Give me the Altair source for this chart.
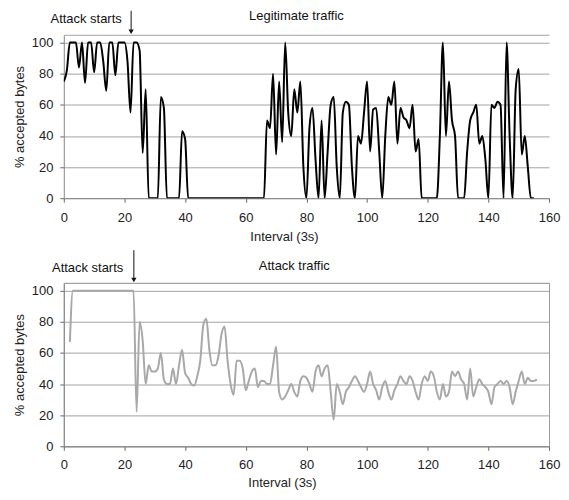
import altair as alt
import pandas as pd

# ---------------- data ----------------
legit_x = list(range(0, 156))
legit_y = [
    75, 82, 100, 100, 100, 84, 100, 74, 100, 100,
    81, 100, 100, 88, 69, 100, 100, 79, 100, 100,
    100, 88, 55, 100, 100, 95, 29, 70, 0, 0,
    0, 0, 65, 58, 0, 0, 0, 0, 0, 43,
    38, 0, 0, 0, 0, 0, 0, 0, 0, 0,
    0, 0, 0, 0, 0, 0, 0, 0, 0, 0,
    0, 0, 0, 0, 0, 0, 0, 50, 45, 80,
    28, 75, 36, 100, 55, 40, 70, 55, 75, 20,
    0, 45, 58, 25, 0, 50, 0, 30, 60, 65,
    20, 0, 55, 62, 60, 20, 0, 40, 35, 55,
    75, 30, 57, 58, 30, 0, 40, 65, 60, 75,
    35, 58, 52, 50, 45, 60, 30, 38, 0, 0,
    0, 0, 0, 0, 40, 100, 40, 75, 50, 40,
    0, 0, 0, 30, 50, 55, 60, 35, 40, 25,
    0, 60, 58, 62, 60, 0, 100, 40, 0, 70,
    83, 28, 40, 20, 0, 0,
]

attack_x = list(range(2, 157))
attack_y = [
    67, 100, 100, 100, 100, 100, 100, 100, 100, 100,
    100, 100, 100, 100, 100, 100, 100, 100, 100, 100,
    100, 100, 22, 80, 68, 40, 52, 48, 48, 50,
    60, 43, 40, 40, 50, 40, 52, 62, 47, 44,
    40, 39, 45, 55, 78, 82, 62, 52, 52, 58,
    72, 77, 55, 40, 33, 55, 55, 50, 36, 42,
    48, 50, 38, 42, 42, 40, 40, 52, 64, 35,
    30, 32, 36, 40, 35, 32, 42, 45, 44, 40,
    35, 48, 52, 45, 50, 52, 35, 17, 40, 35,
    27, 35, 38, 42, 45, 42, 38, 35, 40, 48,
    40, 36, 30, 38, 42, 35, 30, 36, 40, 45,
    42, 40, 45, 42, 35, 30, 40, 45, 42, 48,
    45, 35, 30, 40, 32, 35, 48, 45, 48, 43,
    40, 30, 50, 32, 38, 43, 40, 38, 35, 27,
    38, 40, 42, 40, 42, 38, 27, 35, 42, 48,
    40, 44, 42, 42, 43,
]

x_ticks = [0, 20, 40, 60, 80, 100, 120, 140, 160]
y_ticks = [0, 20, 40, 60, 80, 100]
titles = ["Legitimate traffic", "Attack traffic"]
attack_label = "Attack starts"

FONT = "Liberation Sans"
GRID = "#a3a3a3"
W, H = 487, 164
YMAX = 105


def panel(xv, yv, color, title_text, arrow_x, arrow_top, label_x, label_y,
          title_x, title_y, border, lab_pad, ttl_pad, ttl_x):
    df = pd.DataFrame({"interval": xv, "pct": yv})
    x_scale = alt.Scale(domain=[0, 160], nice=False, zero=False)
    y_scale = alt.Scale(domain=[0, YMAX], nice=False)
    x_axis = alt.Axis(
        values=x_ticks, grid=False, title="Interval (3s)",
        domainColor="#888888", tickColor="#666666", tickSize=4,
        labelFont=FONT, labelFontSize=13, labelColor="#222222", labelPadding=lab_pad,
        labelFlush=False, labelOverlap=False,
        titleFont=FONT, titleFontSize=13, titleFontWeight="normal",
        titleColor="#222222", titlePadding=ttl_pad, titleX=ttl_x, titleAlign="center",
    )
    y_axis = alt.Axis(
        values=y_ticks + [YMAX], grid=True, gridColor=GRID, gridWidth=1,
        labelExpr="datum.value > 100 ? '' : datum.label",
        tickOpacity={"condition": {"test": "datum.value > 100", "value": 0}, "value": 1},
        domainColor="#888888", tickColor="#666666", tickSize=4,
        labelFont=FONT, labelFontSize=13, labelColor="#222222", labelPadding=7,
        labelOverlap=False,
        titleFont=FONT, titleFontSize=13, titleFontWeight="normal",
        titleColor="#222222", titlePadding=5, title="% accepted bytes",
    )
    x_enc = alt.X("interval:Q", scale=x_scale, axis=x_axis)
    y_enc = alt.Y("pct:Q", scale=y_scale, axis=y_axis)

    line = alt.Chart(df).mark_line(
        color=color, strokeWidth=2, clip=True, interpolate="monotone"
    ).encode(x=x_enc, y=y_enc)

    lab_df = pd.DataFrame({"interval": [label_x], "pct": [label_y], "label": [attack_label]})
    ttl_df = pd.DataFrame({"interval": [title_x], "pct": [title_y], "label": [title_text]})
    label = alt.Chart(lab_df).mark_text(
        font=FONT, fontSize=13, color="#111111", align="right", baseline="middle"
    ).encode(x=x_enc, y=y_enc, text="label:N")
    ttl = alt.Chart(ttl_df).mark_text(
        font=FONT, fontSize=13, color="#111111", align="center", baseline="middle"
    ).encode(x=x_enc, y=y_enc, text="label:N")

    arr_df = pd.DataFrame({"interval": [arrow_x], "pct": [YMAX + 1.9], "top": [arrow_top]})
    shaft = alt.Chart(arr_df).mark_rule(color="#111111", strokeWidth=1).encode(
        x=x_enc, y=y_enc, y2="top:Q"
    )
    head = alt.Chart(arr_df).mark_point(
        shape="triangle-down", filled=True, color="#111111", size=28, opacity=1
    ).encode(x=x_enc, y=y_enc)

    layer = alt.layer(line, label, ttl, shaft, head).properties(width=W, height=H)
    if border:
        layer = layer.properties(view=alt.ViewBackground(stroke="#999999", strokeWidth=1))
    return layer


top = panel(legit_x, legit_y, "#000000", titles[0], 22.2, 120.4, 19.1, 115.2,
            76.7, 117.2, False, 9, 6, 221)
bottom = panel(attack_x, attack_y, "#a8a8a8", titles[1], 23.1, 126.0, 19.6, 114.6,
               76.0, 115.9, True, 8, 5, 219)

chart = alt.vconcat(top, bottom, spacing=85, bounds="flush").properties(
    padding={"left": 4, "top": 0, "right": 0, "bottom": 0}
).configure_view(stroke=None)

chart.save("out.html", embed_options={"renderer": "svg", "actions": False})
